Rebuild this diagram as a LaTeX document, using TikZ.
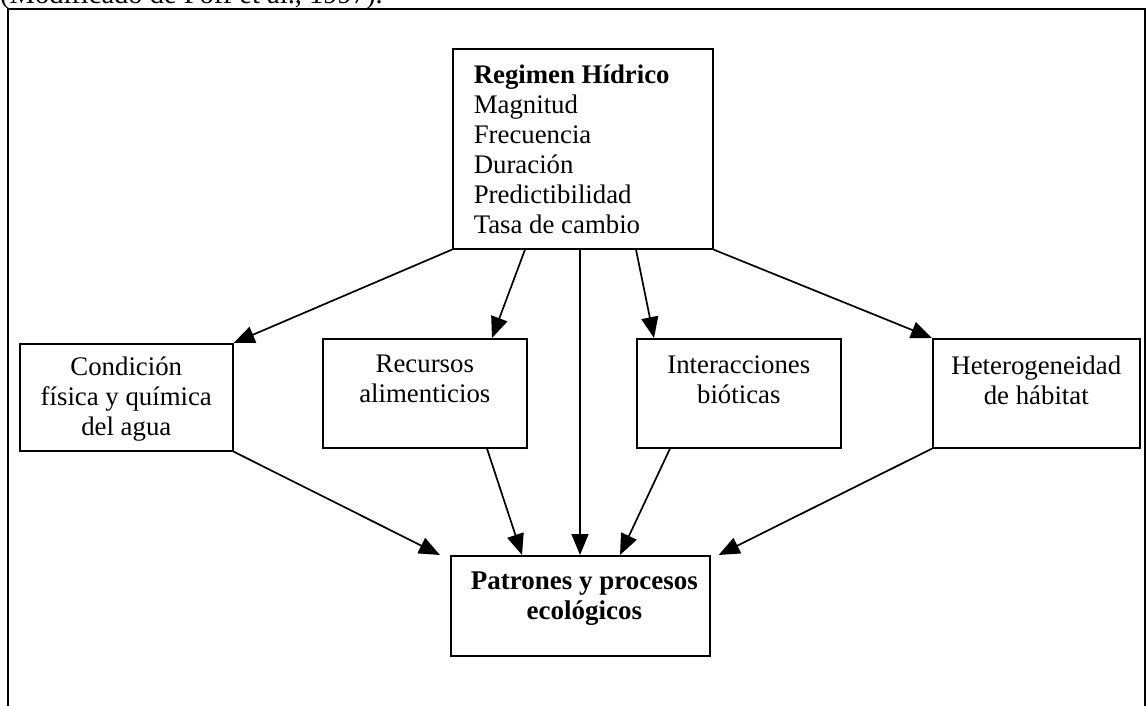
\documentclass[tikz,border=0pt]{standalone}
\usepackage{fontspec}
\setmainfont{Liberation Serif}
\usetikzlibrary{arrows.meta,calc}
\tikzset{
  box/.style={draw=black, line width=1.6pt, inner sep=0pt, anchor=north west,
    font=\fontsize{26.8}{30}\selectfont},
  arr/.style={draw=black, line width=1.7pt, -{Triangle[length=21pt,width=17pt]}},
  frame/.style={draw=black, line width=1.8pt}
}
\begin{document}
\begin{tikzpicture}[x=1pt,y=-1pt]
\useasboundingbox (0,0) rectangle (1146,706);
\begin{scope}
\clip (0,0) rectangle (1146,706);
\node[anchor=base west, inner sep=0pt, font=\fontsize{28.5}{30}\selectfont] (cap) at (0,4) {(Modificado de Poff et al., 1997).};
\draw[frame] (8,9) rectangle (1145,720);
\end{scope}

\node[box] (reg) at (452,48) {\parbox[t][200pt][t]{260pt}{\leftskip=21pt\vspace*{16pt}\textbf{Regimen Hídrico}\\Magnitud\\Frecuencia\\Duración\\Predictibilidad\\Tasa de cambio}};
\node[box] (cond) at (19,343) {\parbox[t][107pt][t]{213pt}{\centering\vspace*{13pt}Condición\\física y química\\del agua}};
\node[box] (rec) at (322,338) {\parbox[t][109pt][t]{204pt}{\centering\vspace*{16.5pt}Recursos\\alimenticios}};
\node[box] (int) at (636,338) {\parbox[t][109pt][t]{204pt}{\centering\vspace*{17pt}Interacciones\\bióticas}};
\node[box] (het) at (932,338) {\parbox[t][109pt][t]{207pt}{\centering\vspace*{17pt}Heterogeneidad\\de hábitat}};
\node[box, font=\fontsize{27}{30}\selectfont\bfseries] (pat) at (450,555) {\parbox[t][100pt][t]{259pt}{\centering\vspace*{16.5pt}\hspace*{8pt}Patrones y procesos\\\hspace*{8pt}ecológicos}};

% free ends
\coordinate (r1) at ($(reg.south west)+(73,0)$);
\coordinate (r2) at ($(reg.south west)+(128,0)$);
\coordinate (r3) at ($(reg.south west)+(184,0)$);
\coordinate (recin) at ($(rec.north west)+(170,0)$);
\coordinate (intin) at ($(int.north west)+(18,0)$);
\coordinate (recout) at ($(rec.south west)+(165,0)$);
\coordinate (intout) at ($(int.south west)+(34,0)$);
\coordinate (p0) at ($(pat.north west)+(-10,0)$);
\coordinate (p1) at ($(pat.north west)+(72,0)$);
\coordinate (p2) at ($(pat.north west)+(130,0)$);
\coordinate (p3) at ($(pat.north west)+(170,0)$);
\coordinate (p4) at ($(pat.north east)+(8,0)$);

\draw[arr] (reg.south west) -- (cond.north east);
\draw[arr] (r1) -- (recin);
\draw[arr] (r2) -- (p2);
\draw[arr] (r3) -- (intin);
\draw[arr] (reg.south east) -- (het.north west);

\draw[arr] (cond.south east) -- (p0);
\draw[arr] (recout) -- (p1);
\draw[arr] (intout) -- (p3);
\draw[arr] (het.south west) -- (p4);
\end{tikzpicture}
\end{document}
